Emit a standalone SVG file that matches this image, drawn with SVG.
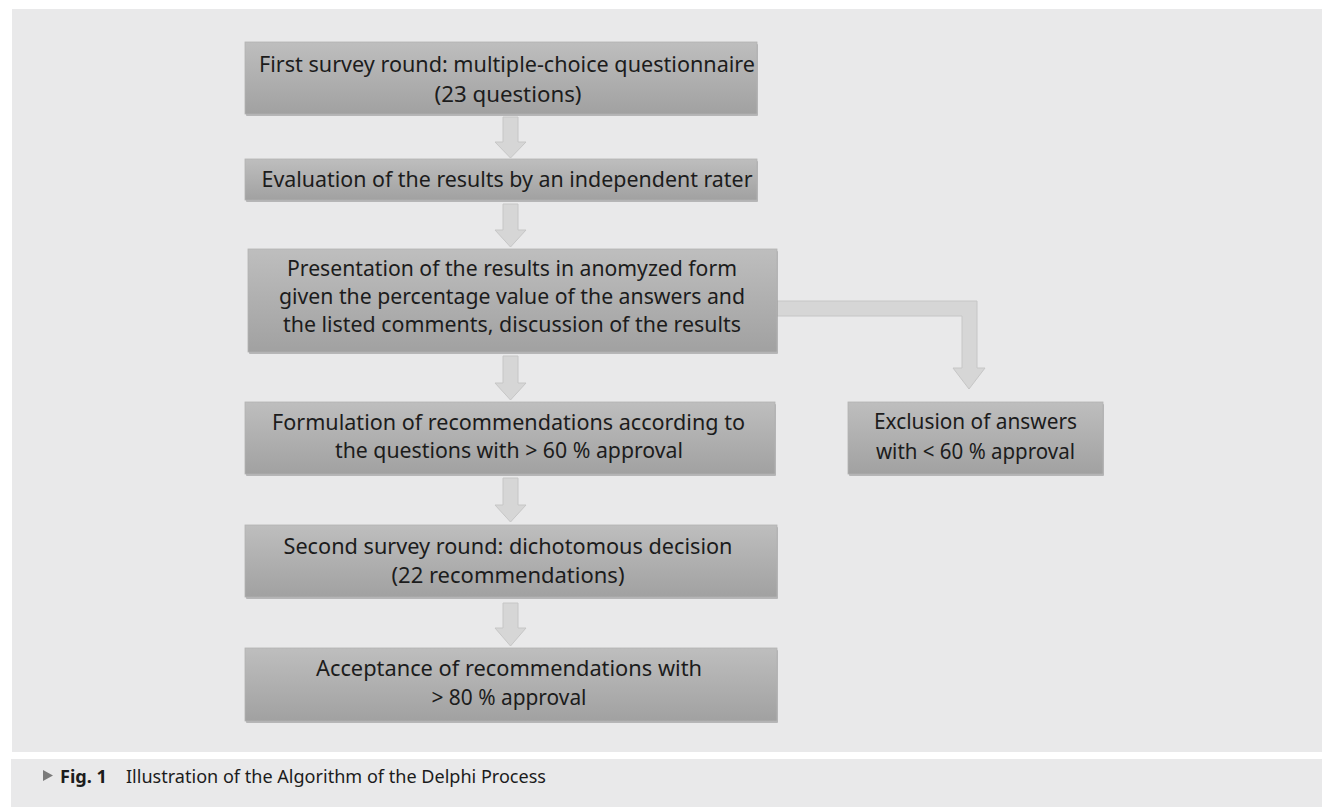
<svg xmlns="http://www.w3.org/2000/svg" width="1322" height="807" viewBox="0 0 1322 807">
<defs>
<linearGradient id="boxg" x1="0" y1="0" x2="0" y2="1">
<stop offset="0" stop-color="#bebebe"/>
<stop offset="1" stop-color="#a1a1a1"/>
</linearGradient>
</defs>
<style>
.box{fill:url(#boxg);stroke:#b2b2b2;stroke-width:0.8}
.shadow{fill:#8c8c8c;opacity:0.55}
.arr{fill:#d6d6d6;stroke:#c6c6c6;stroke-width:1}
.t{font-family:"Noto Sans","Open Sans","Liberation Sans",sans-serif;font-size:22px;fill:#1c1c1c;text-anchor:middle}
.cap{font-family:"Noto Sans","Open Sans","Liberation Sans",sans-serif;font-size:18px;fill:#1c1c1c}
</style>
<rect x="0" y="0" width="1322" height="807" fill="#ffffff"/>
<rect x="12" y="9" width="1310" height="743" fill="#e9e9ea"/>
<rect x="11" y="759" width="1311" height="48" fill="#e9e9ea"/>

<g id="connectors">
<path class="arr" d="M503,117 H518 V142 H526 L510.5,158 L495,142 H503 Z"/>
<path class="arr" d="M503,204 H518 V230 H526 L510.5,247 L495,230 H503 Z"/>
<path class="arr" d="M503,356 H518 V383 H526 L510.5,400 L495,383 H503 Z"/>
<path class="arr" d="M503,478 H518 V505 H526 L510.5,522 L495,505 H503 Z"/>
<path class="arr" d="M503,603 H518 V628 H526 L510.5,646 L495,628 H503 Z"/>
<path class="arr" d="M777,301 H977 V368 H985 L969,389 L953,368 H962 V316 H777 Z"/>
</g>

<g id="n1">
<rect class="shadow" x="246" y="44" width="512" height="72" rx="1"/>
<rect class="box" x="245" y="42" width="512" height="72"/>
<text class="t" x="507" y="72" textLength="496" lengthAdjust="spacingAndGlyphs">First survey round: multiple-choice questionnaire</text>
<text class="t" x="508" y="102" textLength="147" lengthAdjust="spacingAndGlyphs">(23 questions)</text>
</g>

<g id="n2">
<rect class="shadow" x="246" y="161" width="512" height="41" rx="1"/>
<rect class="box" x="245" y="159" width="512" height="41"/>
<text class="t" x="507" y="187" textLength="491" lengthAdjust="spacingAndGlyphs">Evaluation of the results by an independent rater</text>
</g>

<g id="n3">
<rect class="shadow" x="249" y="251" width="529" height="103" rx="1"/>
<rect class="box" x="248" y="249" width="529" height="103"/>
<text class="t" x="512" y="276" textLength="450" lengthAdjust="spacingAndGlyphs">Presentation of the results in anomyzed form</text>
<text class="t" x="512" y="304" textLength="466" lengthAdjust="spacingAndGlyphs">given the percentage value of the answers and</text>
<text class="t" x="512" y="332" textLength="458" lengthAdjust="spacingAndGlyphs">the listed comments, discussion of the results</text>
</g>

<g id="n4">
<rect class="shadow" x="246" y="404" width="530" height="72" rx="1"/>
<rect class="box" x="245" y="402" width="530" height="72"/>
<text class="t" x="508.5" y="430" textLength="473" lengthAdjust="spacingAndGlyphs">Formulation of recommendations according to</text>
<text class="t" x="509" y="458" textLength="348" lengthAdjust="spacingAndGlyphs">the questions with &gt; 60 % approval</text>
</g>

<g id="n5">
<rect class="shadow" x="849" y="404" width="255" height="72" rx="1"/>
<rect class="box" x="848" y="402" width="255" height="72"/>
<text class="t" x="975.5" y="429" textLength="203" lengthAdjust="spacingAndGlyphs">Exclusion of answers</text>
<text class="t" x="975.5" y="459" textLength="199" lengthAdjust="spacingAndGlyphs">with &lt; 60 % approval</text>
</g>

<g id="n6">
<rect class="shadow" x="246" y="527" width="532" height="72" rx="1"/>
<rect class="box" x="245" y="525" width="532" height="72"/>
<text class="t" x="508" y="554" textLength="449" lengthAdjust="spacingAndGlyphs">Second survey round: dichotomous decision</text>
<text class="t" x="508" y="583" textLength="233" lengthAdjust="spacingAndGlyphs">(22 recommendations)</text>
</g>

<g id="n7">
<rect class="shadow" x="246" y="650" width="532" height="73" rx="1"/>
<rect class="box" x="245" y="648" width="532" height="73"/>
<text class="t" x="509" y="676" textLength="386" lengthAdjust="spacingAndGlyphs">Acceptance of recommendations with</text>
<text class="t" x="509" y="705" textLength="155" lengthAdjust="spacingAndGlyphs">&gt; 80 % approval</text>
</g>

<g id="caption">
<path d="M43,770 L53,775.5 L43,781 Z" fill="#7a7a7a"/>
<text class="cap" x="60" y="783" font-weight="bold" textLength="47" lengthAdjust="spacingAndGlyphs">Fig. 1</text>
<text class="cap" x="126" y="783" textLength="420" lengthAdjust="spacingAndGlyphs">Illustration of the Algorithm of the Delphi Process</text>
</g>
</svg>
